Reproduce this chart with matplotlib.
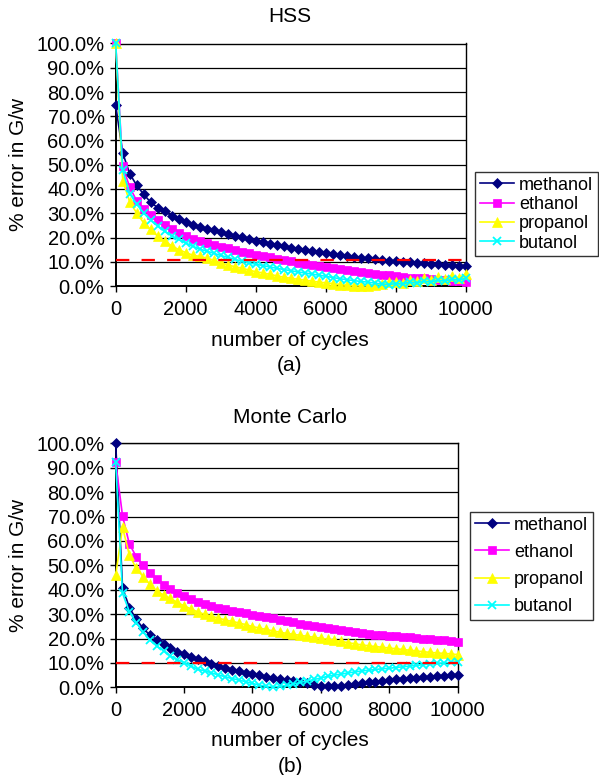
import matplotlib
matplotlib.use("Agg")
import matplotlib.pyplot as plt
from matplotlib.ticker import FuncFormatter, MultipleLocator

plt.rcParams['font.family'] = ['Liberation Sans', 'DejaVu Sans']

cycles = list(range(0, 10001, 200))
series_names = ["methanol", "ethanol", "propanol", "butanol"]

# ---- (a) HSS ----
hss_methanol = [74.5, 54.9, 46.3, 41.5, 37.8, 34.5, 32.3, 30.8, 28.9, 27.7,
                26.4, 25.2, 24.4, 23.6, 22.9, 22.2, 21.5, 20.8, 20.2, 19.4,
                18.7, 18.1, 17.5, 16.9, 16.3, 15.8, 15.3, 14.9, 14.5, 14.1,
                13.7, 13.3, 12.9, 12.5, 12.1, 11.7, 11.4, 11.1, 10.8, 10.5,
                10.2, 10.0, 9.8, 9.6, 9.4, 9.2, 9.0, 8.8, 8.6, 8.4, 8.1]
hss_ethanol = [100.0, 49.3, 40.8, 35.1, 31.9, 29.4, 27.1, 25.1, 23.3, 21.9,
               20.7, 19.5, 18.4, 17.6, 16.9, 16.2, 15.5, 14.8, 14.2, 13.5,
               12.9, 12.4, 11.9, 11.3, 10.8, 10.2, 9.6, 9.1, 8.6, 8.2,
               7.7, 7.3, 6.9, 6.5, 6.1, 5.7, 5.3, 5.0, 4.7, 4.4,
               4.1, 3.8, 3.5, 3.3, 3.1, 2.8, 2.6, 2.4, 2.2, 2.0, 1.8]
hss_propanol = [100.0, 43.5, 34.7, 30.1, 26.0, 23.3, 20.5, 18.4, 16.6, 15.0,
                13.8, 12.7, 12.2, 11.5, 10.6, 9.4, 8.7, 8.0, 7.3, 6.6,
                5.9, 5.4, 4.8, 4.2, 3.6, 3.2, 2.8, 2.4, 2.0, 1.6,
                1.3, 1.0, 0.6, 0.3, 0.1, 0.1, 0.2, 0.5, 0.9, 1.5,
                1.8, 1.3, 2.6, 1.9, 3.2, 2.4, 3.8, 2.9, 4.3, 3.4, 5.0]
hss_butanol = [100.0, 47.7, 38.1, 33.7, 30.1, 27.1, 24.7, 22.5, 20.7, 19.2,
               17.7, 16.4, 15.2, 14.4, 13.5, 12.6, 11.8, 11.0, 10.3, 9.6,
               9.0, 8.4, 7.9, 7.3, 6.8, 6.3, 5.8, 5.4, 4.9, 4.5,
               4.0, 3.5, 3.0, 2.6, 2.2, 1.9, 1.6, 1.2, 0.8, 0.6,
               1.0, 0.8, 1.6, 1.2, 2.0, 1.6, 2.4, 2.0, 2.8, 2.4, 3.2]

# ---- (b) Monte Carlo ----
mc_methanol = [100.0, 40.8, 32.7, 27.9, 24.2, 21.4, 19.5, 17.6, 16.0, 14.6,
               13.5, 12.5, 11.5, 10.6, 9.5, 8.6, 7.8, 7.1, 6.6, 6.0,
               5.4, 4.9, 4.4, 3.9, 3.4, 3.0, 2.6, 2.1, 1.6, 1.1,
               0.7, 0.4, 0.4, 0.6, 1.0, 1.4, 1.7, 2.0, 2.3, 2.6,
               2.9, 3.2, 3.4, 3.7, 4.0, 4.2, 4.4, 4.6, 4.8, 5.0, 5.2]
mc_ethanol = [92.2, 70.2, 58.7, 53.6, 50.1, 46.9, 44.4, 42.1, 40.4, 38.8,
              37.4, 36.2, 35.1, 34.2, 33.4, 32.6, 32.0, 31.4, 30.9, 30.3,
              29.8, 29.3, 28.8, 28.2, 27.7, 27.3, 26.8, 26.1, 25.7, 25.3,
              24.9, 24.5, 23.9, 23.4, 23.0, 22.6, 22.2, 21.7, 21.5, 21.3,
              21.1, 20.9, 20.7, 20.5, 20.3, 20.0, 19.8, 19.5, 19.2, 18.8, 18.4]
mc_propanol = [46.0, 65.5, 54.2, 48.8, 45.4, 42.2, 39.5, 37.8, 36.4, 34.8,
               33.4, 32.1, 30.9, 29.9, 29.1, 28.4, 27.6, 27.0, 26.4, 25.7,
               24.9, 24.3, 23.7, 23.1, 22.6, 22.1, 21.7, 21.3, 20.9, 20.5,
               20.1, 19.7, 19.3, 18.8, 18.3, 17.8, 17.4, 17.0, 16.7, 16.4,
               16.1, 15.8, 15.5, 15.2, 14.9, 14.6, 14.3, 14.1, 13.9, 13.7, 13.4]
mc_butanol = [92.2, 38.5, 31.0, 26.5, 22.7, 19.4, 16.9, 15.0, 12.9, 11.3,
              10.1, 8.7, 7.3, 6.8, 5.9, 5.1, 4.3, 3.6, 3.0, 2.3,
              1.6, 0.9, 0.4, 0.2, 0.4, 0.8, 1.3, 2.0, 2.6, 3.2,
              3.8, 4.5, 5.0, 5.4, 5.9, 6.3, 6.7, 7.0, 7.3, 7.6,
              7.8, 8.1, 8.4, 8.7, 9.0, 9.3, 9.6, 9.8, 10.0, 10.2, 10.5]

thresholds = [10.9, 10.0]
titles = ["HSS", "Monte Carlo"]
panel_tags = ["(a)", "(b)"]
x_label = "number of cycles"
y_label = "% error in G/w"
x_ticks = [0, 2000, 4000, 6000, 8000, 10000]

panels = [
    [hss_methanol, hss_ethanol, hss_propanol, hss_butanol],
    [mc_methanol, mc_ethanol, mc_propanol, mc_butanol],
]

styles = [
    dict(color="#000080", marker="D", ms=5.3),
    dict(color="#FF00FF", marker="s", ms=5.6),
    dict(color="#FFFF00", marker="^", ms=7.0),
    dict(color="#00FFFF", marker="x", ms=6.0, mew=1.3),
]

W, H = 599, 775
fig = plt.figure(figsize=(W / 100, H / 100), dpi=100)
fig.patch.set_facecolor("white")

def px_axes(l, t, r, b):
    return fig.add_axes([l / W, 1 - b / H, (r - l) / W, (b - t) / H])

layout = [
    dict(box=(115.7, 43.5, 465.7, 286.0), title_xy=(290, 17), xl_y=340, tag_y=366,
         yl_x=19, leg_xy=(475, 172), leg_spacing=0.13),
    dict(box=(115.7, 443.3, 457.5, 687.3), title_xy=(290, 418), xl_y=741, tag_y=766,
         yl_x=19, leg_xy=(470, 512), leg_spacing=0.57),
]

FS_TICK = 14.5
FS_TEXT = 15
FS_LEG = 13

for i, (data, lay) in enumerate(zip(panels, layout)):
    l, t, r, b = lay["box"]
    ax = px_axes(l, t, r, b)
    handles = []
    for name, vals, st in zip(series_names, data, styles):
        h, = ax.plot(cycles, vals, color=st["color"], lw=1.2, marker=st["marker"],
                     ms=st["ms"], mew=st.get("mew", 0.5), mec=st["color"],
                     mfc=st["color"], clip_on=False, zorder=3, label=name)
        handles.append(h)
    ax.plot([cycles[0], cycles[-1]], [thresholds[i]] * 2, color="#FF0000", lw=1.6,
            dashes=(6, 5.5), zorder=4, clip_on=False)
    ax.set_xlim(0, 10000)
    ax.set_ylim(0, 100)
    ax.set_xticks(x_ticks)
    ax.yaxis.set_major_locator(MultipleLocator(10))
    ax.yaxis.set_major_formatter(FuncFormatter(lambda v, p: f"{v:.1f}%"))
    ax.grid(axis="y", color="black", lw=0.9, zorder=1)
    ax.set_axisbelow(True)
    for s in ax.spines.values():
        s.set_color("black")
        s.set_linewidth(1.0)
    ax.spines["left"].set_linewidth(1.4)
    ax.spines["bottom"].set_linewidth(1.4)
    ax.tick_params(axis="both", direction="out", length=4, width=1.0, color="black",
                   labelsize=FS_TICK)
    ax.tick_params(axis="x", pad=6)
    ax.tick_params(axis="y", pad=4)
    fig.text(lay["title_xy"][0] / W, 1 - lay["title_xy"][1] / H, titles[i],
             ha="center", va="center", fontsize=FS_TEXT)
    fig.text(290 / W, 1 - lay["xl_y"] / H, x_label, ha="center", va="center",
             fontsize=FS_TEXT)
    fig.text(290 / W, 1 - lay["tag_y"] / H, panel_tags[i], ha="center", va="center",
             fontsize=FS_TEXT)
    fig.text(lay["yl_x"] / W, 1 - ((t + b) / 2) / H, y_label, ha="center", va="center",
             rotation=90, fontsize=FS_TEXT)
    leg = fig.legend(handles=handles, loc="upper left",
                     bbox_to_anchor=(lay["leg_xy"][0] / W, 1 - lay["leg_xy"][1] / H),
                     bbox_transform=fig.transFigure, frameon=True, fancybox=False,
                     edgecolor="black", fontsize=FS_LEG, handlelength=1.9,
                     handletextpad=0.3, borderpad=0.25, labelspacing=lay["leg_spacing"],
                     borderaxespad=0)
    leg.get_frame().set_linewidth(1.0)

fig.savefig("out.png", dpi=100, facecolor="white")
